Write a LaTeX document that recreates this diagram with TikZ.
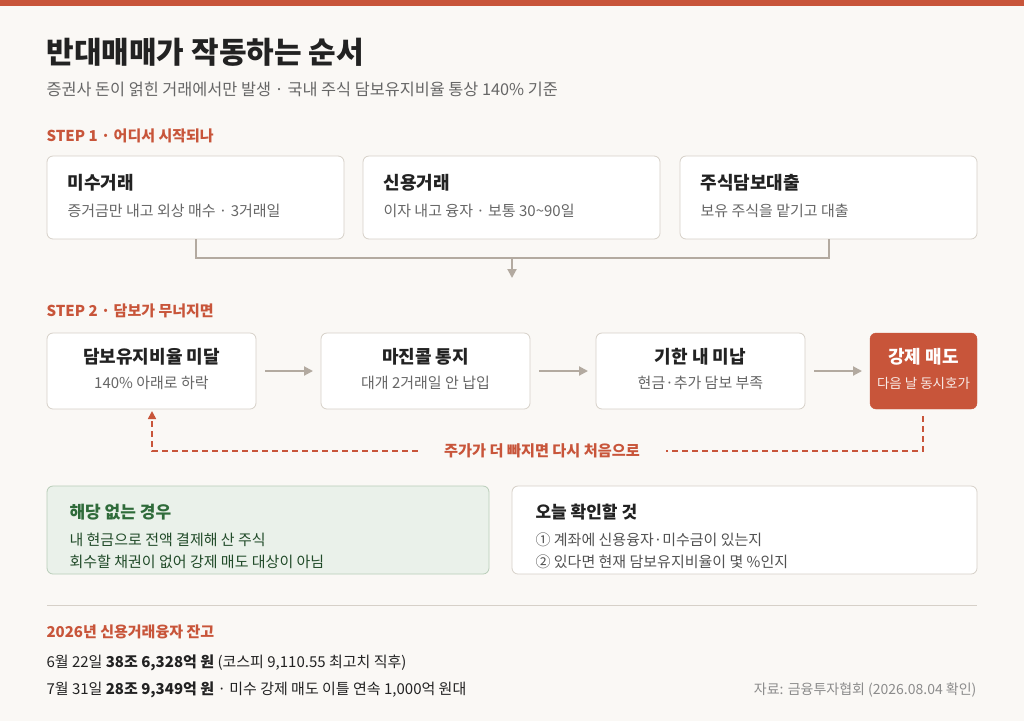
\documentclass[tikz,border=0pt]{standalone}
\usepackage{fontspec}
\setmainfont{Noto Sans CJK KR}
\usetikzlibrary{positioning,arrows.meta}
\definecolor{accent}{HTML}{C8553A}
\definecolor{paper}{HTML}{FAF8F5}
\definecolor{edge}{HTML}{D6D0C8}
\definecolor{flow}{HTML}{B3AAA0}
\definecolor{ink}{HTML}{222222}
\definecolor{mute}{HTML}{666666}
\definecolor{leaf}{HTML}{2F6B3A}
\definecolor{leafbg}{HTML}{EAF1EA}
\definecolor{leafedge}{HTML}{B8CDB8}
\tikzset{
  card/.style={draw=edge, fill=white, rounded corners=6pt, line width=0.8pt},
  cardhead/.style={font=\fontsize{18}{21}\selectfont\bfseries, text=ink},
  cardsub/.style={font=\fontsize{15}{18}\selectfont, text=mute},
  steplabel/.style={font=\fontsize{15}{18}\selectfont\bfseries, text=accent, anchor=west},
  flowline/.style={draw=flow, line width=2pt},
  textline/.style={font=\fontsize{15}{18}\selectfont, text=ink, anchor=west},
}
\begin{document}
\begin{tikzpicture}[x=1pt, y=-1pt, >={Triangle[length=9pt,width=9pt]}]
    \useasboundingbox (0,0) rectangle (1024,721);
    \fill[paper] (0,0) rectangle (1024,721);
    \fill[accent] (0,0) rectangle (1024,6);

    % Title
    \node[anchor=west, font=\fontsize{30}{34}\selectfont\bfseries, text=ink] (title) at (43,52) {반대매매가 작동하는 순서};
    \node[anchor=west, font=\fontsize{16.3}{19}\selectfont, text=mute] (subtitle) at (43,89) {증권사 돈이 얽힌 거래에서만 발생 · 국내 주식 담보유지비율 통상 140\% 기준};

    % Step 1
    \node[steplabel] (s1) at (43,136) {STEP 1 · 어디서 시작되나};
    \foreach \x/\nm/\h/\s in {47/a/미수거래/증거금만 내고 외상 매수 · 3거래일,
                              363/b/신용거래/이자 내고 융자 · 보통 30\textasciitilde90일,
                              680/c/주식담보대출/보유 주식을 맡기고 대출}{
      \draw[card] (\x,156) rectangle ++(297,83);
      \node[cardhead, anchor=west] at (\x+17,183) {\h};
      \node[cardsub, anchor=west] at (\x+17,211) {\s};
      \coordinate (t\nm) at (\x+148.5,239);
    }
    \coordinate (join) at (512,258);
    \draw[flowline] (ta) |- (join) -| (tc);
    \coordinate (down) at (512,278);
    \draw[flowline, ->] (join) -- (down);

    % Step 2
    \node[steplabel] (s2) at (43,311) {STEP 2 · 담보가 무너지면};
    \foreach \x/\nm/\h/\s in {47/p/담보유지비율 미달/140\% 아래로 하락,
                              321/q/마진콜 통지/대개 2거래일 안 납입,
                              596/r/기한 내 미납/현금·추가 담보 부족}{
      \draw[card] (\x,333) rectangle ++(209,76);
      \node[cardhead] at (\x+104.5,357) {\h};
      \node[cardsub] at (\x+104.5,383) {\s};
      \coordinate (\nm L) at (\x-8,371);
      \coordinate (\nm R) at (\x+218,371);
    }
    \draw[fill=accent, draw=accent, rounded corners=6pt] (870,333) rectangle (977,409);
    \node[cardhead, text=white] (sell) at (923.5,357) {강제 매도};
    \node[cardsub, text=white!88!accent, font=\fontsize{13.5}{16}\selectfont] (sellsub) at (923.5,383) {다음 날 동시호가};
    \coordinate (sL) at (862,371);
    \draw[flowline, ->] (pR) -- (qL);
    \draw[flowline, ->] (qR) -- (rL);
    \draw[flowline, ->] (rR) -- (sL);

    % Feedback loop
    \coordinate (fbs) at (923,416);
    \coordinate (fbe) at (152,411);
    \node[font=\fontsize{15.2}{18}\selectfont\bfseries, text=accent, fill=paper, inner xsep=26pt] (again) at (542,451) {주가가 더 빠지면 다시 처음으로};
    \draw[accent, line width=1.6pt, dash pattern=on 6pt off 4pt] (fbs) |- (again.east);
    \draw[accent, line width=1.6pt, dash pattern=on 6pt off 4pt, ->, >={Triangle[length=8pt,width=8pt]}] (again.west) -| (fbe);

    % Bottom cards
    \draw[draw=leafedge, fill=leafbg, rounded corners=6pt, line width=0.8pt] (47,486) rectangle (489,574);
    \node[cardhead, anchor=west, text=leaf, font=\fontsize{17}{20}\selectfont\bfseries] (none) at (66,512) {해당 없는 경우};
    \node[textline, text=leaf!70!black] at (66,540) {내 현금으로 전액 결제해 산 주식};
    \node[textline, text=leaf!70!black] at (66,562) {회수할 채권이 없어 강제 매도 대상이 아님};

    \draw[card] (512,486) rectangle (977,574);
    \node[cardhead, anchor=west, font=\fontsize{17}{20}\selectfont\bfseries] (check) at (532,512) {오늘 확인할 것};
    \node[textline, text=mute!80!black] at (532,540) {① 계좌에 신용융자·미수금이 있는지};
    \node[textline, text=mute!80!black] at (532,562) {② 있다면 현재 담보유지비율이 몇 \%인지};

    % Footer
    \draw[edge, line width=0.8pt] (47,605) -- (977,605);
    \node[steplabel] (s3) at (43,632) {2026년 신용거래융자 잔고};
    \node[textline] (l1) at (43,663) {6월 22일 \textbf{38조 6,328억 원} (코스피 9,110.55 최고치 직후)};
    \node[textline] (l2) at (43,690) {7월 31일 \textbf{28조 9,349억 원} · 미수 강제 매도 이틀 연속 1,000억 원대};
    \node[font=\fontsize{14}{17}\selectfont, text=gray!90, anchor=east] (src) at (980,690) {자료: 금융투자협회 (2026.08.04 확인)};
\end{tikzpicture}
\end{document}
